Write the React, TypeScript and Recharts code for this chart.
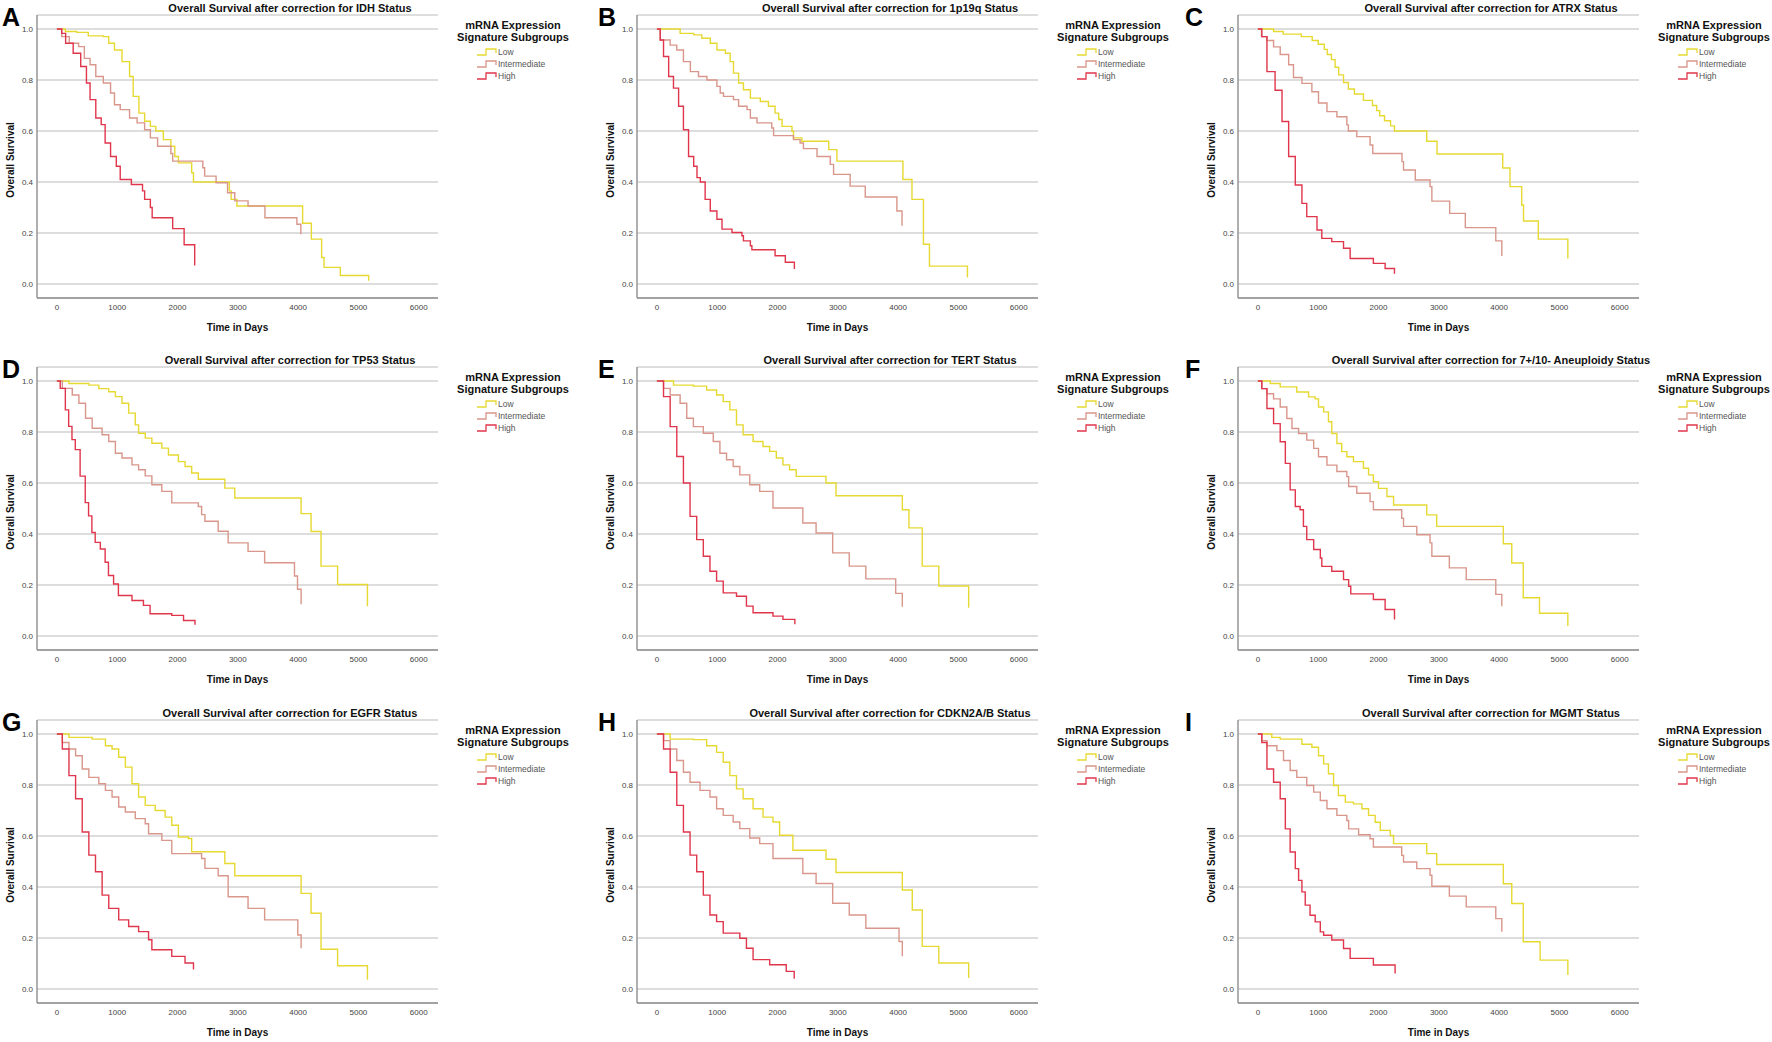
import React from 'react';
import { LineChart, Line, XAxis, YAxis, CartesianGrid } from 'recharts';

type P = [number, number];

// A — IDH
const idhLow: P[] = [[0,1],[140,0.99],[330,0.987],[520,0.973],[770,0.97],[860,0.944],[955,0.918],[1080,0.872],[1205,0.814],[1265,0.736],[1360,0.67],[1455,0.638],[1550,0.618],[1640,0.6],[1765,0.566],[1890,0.54],[1955,0.5],[2015,0.475],[2235,0.436],[2265,0.4],[2860,0.365],[2890,0.332],[2985,0.306],[4075,0.238],[4220,0.176],[4390,0.104],[4430,0.065],[4700,0.033],[5170,0.013]];
const idhInt: P[] = [[0,1],[80,0.97],[205,0.944],[360,0.931],[455,0.885],[550,0.86],[645,0.814],[770,0.788],[890,0.749],[955,0.703],[1050,0.684],[1205,0.651],[1330,0.632],[1455,0.605],[1550,0.573],[1670,0.54],[1890,0.512],[1920,0.482],[2420,0.456],[2450,0.423],[2640,0.397],[2830,0.358],[2950,0.326],[3170,0.306],[3450,0.26],[3980,0.234],[4045,0.195]];
const idhHigh: P[] = [[0,1],[80,0.983],[145,0.944],[270,0.905],[395,0.853],[490,0.788],[550,0.723],[645,0.651],[735,0.625],[800,0.553],[890,0.5],[985,0.462],[1050,0.41],[1235,0.39],[1420,0.365],[1455,0.332],[1550,0.3],[1580,0.26],[1920,0.217],[2110,0.154],[2285,0.072]];

// B — 1p19q
const codLow: P[] = [[0,1],[385,0.983],[610,0.977],[745,0.964],[885,0.944],[995,0.918],[1135,0.905],[1215,0.872],[1270,0.827],[1355,0.788],[1435,0.762],[1550,0.729],[1715,0.716],[1850,0.697],[1960,0.67],[2020,0.645],[2075,0.618],[2240,0.599],[2265,0.573],[2405,0.56],[2850,0.527],[2985,0.482],[4080,0.41],[4230,0.332],[4420,0.156],[4520,0.07],[5150,0.025]];
const codInt: P[] = [[0,1],[55,0.957],[220,0.937],[330,0.918],[440,0.872],[555,0.833],[690,0.814],[830,0.8],[995,0.775],[1050,0.749],[1105,0.736],[1270,0.723],[1355,0.697],[1495,0.684],[1550,0.651],[1660,0.632],[1905,0.612],[1935,0.582],[2265,0.566],[2375,0.553],[2430,0.531],[2655,0.5],[2875,0.469],[2930,0.43],[3205,0.384],[3455,0.341],[3980,0.286],[4065,0.228]];
const codHigh: P[] = [[0,1],[55,0.957],[110,0.892],[195,0.814],[275,0.768],[360,0.697],[440,0.605],[525,0.5],[610,0.462],[665,0.417],[720,0.4],[800,0.332],[885,0.286],[995,0.254],[1080,0.215],[1245,0.202],[1410,0.189],[1435,0.169],[1550,0.15],[1575,0.134],[1960,0.111],[2130,0.085],[2280,0.059]];

// C — ATRX
const atrxLow: P[] = [[0,1],[260,0.99],[420,0.98],[720,0.97],[900,0.955],[1000,0.94],[1100,0.92],[1150,0.9],[1220,0.88],[1280,0.85],[1340,0.82],[1420,0.79],[1500,0.765],[1600,0.745],[1750,0.72],[1900,0.7],[1970,0.68],[2020,0.66],[2100,0.64],[2200,0.62],[2265,0.6],[2800,0.56],[2970,0.51],[4060,0.455],[4180,0.382],[4375,0.31],[4405,0.247],[4650,0.176],[5140,0.1]];
const atrxInt: P[] = [[0,1],[60,0.97],[150,0.955],[260,0.93],[370,0.9],[510,0.86],[590,0.81],[730,0.787],[895,0.754],[1005,0.71],[1145,0.676],[1310,0.656],[1475,0.624],[1500,0.6],[1640,0.578],[1860,0.545],[1905,0.512],[2390,0.48],[2415,0.447],[2610,0.408],[2855,0.382],[2885,0.325],[3180,0.277],[3440,0.221],[3945,0.169],[4045,0.11]];
const atrxHigh: P[] = [[0,1],[65,0.97],[150,0.833],[285,0.76],[400,0.637],[510,0.5],[620,0.388],[730,0.316],[810,0.264],[980,0.212],[1060,0.179],[1225,0.166],[1420,0.14],[1530,0.1],[1915,0.081],[2110,0.061],[2265,0.04]];

// D — TP53
const tp53Low: P[] = [[0,1],[200,0.99],[530,0.984],[695,0.97],[860,0.958],[970,0.939],[1080,0.913],[1190,0.874],[1300,0.828],[1355,0.795],[1465,0.776],[1575,0.756],[1740,0.737],[1850,0.71],[2015,0.684],[2125,0.665],[2235,0.639],[2345,0.615],[2785,0.58],[2950,0.541],[4050,0.48],[4215,0.41],[4380,0.274],[4655,0.202],[5150,0.117]];
const tp53Int: P[] = [[0,1],[90,0.971],[255,0.945],[365,0.913],[475,0.854],[585,0.815],[750,0.789],[860,0.763],[970,0.717],[1080,0.698],[1245,0.671],[1355,0.652],[1465,0.628],[1575,0.593],[1740,0.567],[1905,0.522],[2345,0.508],[2400,0.476],[2455,0.45],[2675,0.411],[2840,0.365],[3170,0.332],[3445,0.287],[3940,0.235],[3990,0.183],[4050,0.124]];
const tp53High: P[] = [[0,1],[55,0.971],[140,0.887],[195,0.822],[250,0.77],[305,0.731],[385,0.627],[470,0.523],[525,0.471],[580,0.406],[635,0.367],[720,0.341],[800,0.289],[855,0.237],[940,0.204],[1020,0.159],[1245,0.139],[1435,0.12],[1545,0.087],[1905,0.081],[2100,0.061],[2290,0.044]];

// E — TERT
const tertLow: P[] = [[0,1],[275,0.984],[605,0.98],[825,0.965],[990,0.945],[1100,0.919],[1210,0.887],[1320,0.828],[1430,0.789],[1595,0.763],[1760,0.743],[1870,0.724],[1980,0.698],[2090,0.671],[2200,0.652],[2310,0.626],[2805,0.6],[2970,0.55],[4070,0.495],[4180,0.424],[4400,0.274],[4675,0.196],[5170,0.111]];
const tertInt: P[] = [[0,1],[110,0.971],[220,0.945],[385,0.913],[495,0.854],[605,0.821],[770,0.795],[935,0.763],[1045,0.717],[1155,0.691],[1265,0.665],[1375,0.632],[1540,0.593],[1705,0.567],[1925,0.502],[2420,0.443],[2640,0.404],[2915,0.326],[3190,0.274],[3465,0.224],[3960,0.167],[4070,0.115]];
const tertHigh: P[] = [[0,1],[110,0.939],[220,0.821],[330,0.704],[440,0.6],[550,0.469],[660,0.378],[770,0.313],[880,0.254],[990,0.215],[1100,0.169],[1320,0.156],[1485,0.117],[1595,0.091],[1925,0.078],[2090,0.065],[2288,0.046]];

// F — 7+/10- aneuploidy
const aneuLow: P[] = [[0,1],[205,0.99],[370,0.977],[645,0.957],[840,0.938],[950,0.93],[1005,0.898],[1090,0.879],[1170,0.84],[1225,0.794],[1310,0.755],[1390,0.723],[1475,0.703],[1585,0.684],[1750,0.658],[1835,0.632],[1915,0.605],[2000,0.579],[2140,0.547],[2250,0.514],[2800,0.475],[2965,0.43],[4070,0.362],[4210,0.286],[4400,0.15],[4670,0.089],[5140,0.039]];
const aneuInt: P[] = [[0,1],[65,0.97],[150,0.95],[260,0.93],[370,0.898],[480,0.853],[565,0.814],[675,0.794],[810,0.768],[925,0.736],[1005,0.703],[1145,0.67],[1310,0.645],[1475,0.625],[1505,0.586],[1640,0.56],[1860,0.527],[1915,0.495],[2385,0.462],[2415,0.43],[2635,0.397],[2855,0.365],[2885,0.313],[3175,0.267],[3455,0.221],[3945,0.163],[4045,0.117]];
const aneuHigh: P[] = [[0,1],[65,0.97],[150,0.892],[260,0.833],[370,0.762],[455,0.677],[535,0.573],[620,0.508],[700,0.495],[755,0.43],[810,0.378],[925,0.339],[1035,0.306],[1060,0.273],[1225,0.254],[1420,0.221],[1505,0.195],[1540,0.165],[1915,0.143],[2110,0.104],[2265,0.065]];

// G — EGFR
const egfrLow: P[] = [[0,1],[200,0.987],[585,0.98],[805,0.954],[915,0.941],[1025,0.909],[1135,0.87],[1245,0.805],[1355,0.753],[1465,0.72],[1630,0.7],[1795,0.674],[1905,0.642],[2015,0.596],[2180,0.59],[2235,0.538],[2785,0.492],[2950,0.444],[4050,0.375],[4215,0.297],[4380,0.156],[4655,0.091],[5150,0.036]];
const egfrInt: P[] = [[0,1],[90,0.967],[200,0.941],[310,0.915],[420,0.863],[530,0.83],[695,0.805],[805,0.779],[915,0.753],[1025,0.714],[1135,0.694],[1300,0.668],[1465,0.648],[1520,0.609],[1740,0.583],[1905,0.531],[2400,0.512],[2455,0.473],[2675,0.444],[2840,0.362],[3170,0.316],[3445,0.271],[3995,0.212],[4050,0.16]];
const egfrHigh: P[] = [[0,1],[90,0.941],[200,0.837],[310,0.746],[420,0.616],[530,0.525],[640,0.46],[750,0.368],[860,0.316],[1025,0.271],[1190,0.245],[1355,0.225],[1520,0.193],[1575,0.154],[1905,0.128],[2125,0.102],[2265,0.076]];

// H — CDKN2A/B
const cdkLow: P[] = [[0,1],[220,0.98],[605,0.978],[825,0.954],[990,0.928],[1100,0.889],[1210,0.837],[1320,0.785],[1430,0.746],[1595,0.707],[1760,0.674],[1925,0.655],[2035,0.603],[2255,0.544],[2805,0.509],[2970,0.457],[4070,0.388],[4235,0.31],[4400,0.167],[4675,0.102],[5170,0.043]];
const cdkInt: P[] = [[0,1],[110,0.974],[220,0.941],[330,0.896],[440,0.85],[550,0.811],[715,0.779],[880,0.753],[990,0.707],[1100,0.681],[1265,0.655],[1375,0.629],[1540,0.592],[1705,0.57],[1925,0.512],[2420,0.453],[2640,0.414],[2915,0.336],[3190,0.29],[3465,0.238],[4015,0.186],[4070,0.128]];
const cdkHigh: P[] = [[0,1],[110,0.941],[220,0.85],[330,0.72],[440,0.616],[550,0.525],[660,0.46],[770,0.368],[880,0.29],[990,0.264],[1100,0.219],[1375,0.199],[1485,0.16],[1595,0.115],[1870,0.095],[2145,0.069],[2277,0.04]];

// I — MGMT
const mgmtLow: P[] = [[0,1],[230,0.987],[370,0.98],[730,0.96],[895,0.948],[1005,0.915],[1090,0.883],[1170,0.844],[1255,0.798],[1335,0.759],[1450,0.733],[1585,0.726],[1725,0.707],[1835,0.681],[1945,0.654],[2030,0.622],[2195,0.602],[2250,0.57],[2800,0.531],[2965,0.488],[4070,0.413],[4210,0.335],[4400,0.185],[4680,0.113],[5140,0.055]];
const mgmtInt: P[] = [[0,1],[65,0.974],[150,0.954],[315,0.935],[425,0.896],[535,0.857],[645,0.83],[810,0.798],[925,0.772],[1035,0.739],[1145,0.707],[1310,0.681],[1475,0.661],[1505,0.628],[1670,0.605],[1860,0.589],[1915,0.557],[2385,0.524],[2415,0.498],[2635,0.472],[2855,0.446],[2885,0.403],[3175,0.364],[3455,0.322],[3945,0.276],[4045,0.224]];
const mgmtHigh: P[] = [[0,1],[65,0.967],[150,0.863],[260,0.811],[370,0.746],[455,0.628],[535,0.537],[620,0.472],[675,0.426],[730,0.381],[785,0.329],[865,0.289],[950,0.263],[1035,0.224],[1090,0.211],[1225,0.192],[1420,0.159],[1530,0.12],[1915,0.094],[2275,0.061]];

const xTicks = [0, 1000, 2000, 3000, 4000, 5000, 6000];
const yTicks = [0, 0.2, 0.4, 0.6, 0.8, 1.0];
const groupNames = ['Low', 'Intermediate', 'High'];
const groupColors = ['#e6d932', '#d9968b', '#e0364c'];
const panelLetters = ['A', 'B', 'C', 'D', 'E', 'F', 'G', 'H', 'I'];
const panelTitles = [
  'Overall Survival after correction for IDH Status',
  'Overall Survival after correction for 1p19q Status',
  'Overall Survival after correction for ATRX Status',
  'Overall Survival after correction for TP53 Status',
  'Overall Survival after correction for TERT Status',
  'Overall Survival after correction for 7+/10- Aneuploidy Status',
  'Overall Survival after correction for EGFR Status',
  'Overall Survival after correction for CDKN2A/B Status',
  'Overall Survival after correction for MGMT Status',
];
const panelSeries: P[][][] = [
  [idhLow, idhInt, idhHigh],
  [codLow, codInt, codHigh],
  [atrxLow, atrxInt, atrxHigh],
  [tp53Low, tp53Int, tp53High],
  [tertLow, tertInt, tertHigh],
  [aneuLow, aneuInt, aneuHigh],
  [egfrLow, egfrInt, egfrHigh],
  [cdkLow, cdkInt, cdkHigh],
  [mgmtLow, mgmtInt, mgmtHigh],
];
const legendTitle = ['mRNA Expression', 'Signature Subgroups'];
const yAxisTitle = 'Overall Survival';
const xAxisTitle = 'Time in Days';

const FONT = '"Liberation Sans", Arial, Helvetica, sans-serif';
const COL_X = [0, 600, 1201];
const ROW_Y = [0, 352, 705];
const LETTER_X = [2, 598, 1185];

const toRows = (pts: P[]) => pts.map(([t, s]) => ({ t, s }));

function Panel({ series }: { series: P[][] }) {
  return (
    <LineChart width={590} height={340} margin={{ top: 15, right: 152, bottom: 12, left: 0 }}>
      <CartesianGrid horizontal vertical={false} stroke="#d2d2d2" strokeWidth={1.3} />
      <XAxis
        type="number"
        dataKey="t"
        domain={[-330, 6320]}
        ticks={xTicks}
        allowDataOverflow
        interval={0}
        height={30}
        axisLine={{ stroke: '#8e8e8e', strokeWidth: 1.4 }}
        tickLine={false}
        tickSize={0}
        tickMargin={6}
        tick={{ fontSize: 8, fill: '#444', fontFamily: FONT }}
      />
      <YAxis
        type="number"
        domain={[-0.055, 1.055]}
        ticks={yTicks}
        allowDataOverflow
        interval={0}
        width={37}
        axisLine={{ stroke: '#8e8e8e', strokeWidth: 1.4 }}
        tickLine={false}
        tickSize={0}
        tickMargin={4}
        tick={{ fontSize: 8, fill: '#444', fontFamily: FONT }}
        tickFormatter={(v: number) => v.toFixed(1)}
      />
      {series.map((pts, i) => (
        <Line
          key={groupNames[i]}
          data={toRows(pts)}
          dataKey="s"
          name={groupNames[i]}
          type="stepAfter"
          stroke={groupColors[i]}
          strokeWidth={1.4}
          dot={false}
          activeDot={false}
          isAnimationActive={false}
        />
      ))}
    </LineChart>
  );
}

function Overlay() {
  return (
    <svg width={1772} height={1042} style={{ position: 'absolute', left: 0, top: 0, pointerEvents: 'none' }} fontFamily={FONT}>
      {panelLetters.map((letter, k) => {
        const c = k % 3;
        const r = Math.floor(k / 3);
        const x0 = COL_X[c];
        const y0 = ROW_Y[r];
        return (
          <g key={letter}>
            <text x={LETTER_X[c]} y={y0 + 26} fontSize={25} fontWeight="bold" fill="#000">{letter}</text>
            <text x={x0 + 290} y={y0 + 11.5} fontSize={11} fontWeight="bold" fill="#111" textAnchor="middle">{panelTitles[k]}</text>
            <text transform={`translate(${x0 + 13.5},${y0 + 160}) rotate(-90)`} fontSize={10} fontWeight="bold" fill="#111" textAnchor="middle">{yAxisTitle}</text>
            <text x={x0 + 237.5} y={y0 + 330.5} fontSize={10} fontWeight="bold" fill="#111" textAnchor="middle">{xAxisTitle}</text>
            <text x={x0 + 513} y={y0 + 29} fontSize={11} fontWeight="bold" fill="#111" textAnchor="middle">{legendTitle[0]}</text>
            <text x={x0 + 513} y={y0 + 41} fontSize={11} fontWeight="bold" fill="#111" textAnchor="middle">{legendTitle[1]}</text>
            {groupNames.map((g, i) => {
              const cy = y0 + 52 + i * 12;
              const gx = x0 + 477;
              return (
                <g key={g}>
                  <path d={`M${gx},${cy + 3} H${gx + 9} V${cy - 3} H${gx + 19} V${cy + 1}`} fill="none" stroke={groupColors[i]} strokeWidth={1.3} />
                  <text x={gx + 21} y={cy + 3} fontSize={8.5} fill="#555">{g}</text>
                </g>
              );
            })}
          </g>
        );
      })}
    </svg>
  );
}

export default function App() {
  return (
    <div style={{ position: 'absolute', left: 0, top: 0, width: 1772, height: 1042, background: '#fff', overflow: 'hidden' }}>
      {panelSeries.map((series, k) => (
        <div key={panelLetters[k]} style={{ position: 'absolute', left: COL_X[k % 3], top: ROW_Y[Math.floor(k / 3)] }}>
          <Panel series={series} />
        </div>
      ))}
      <Overlay />
    </div>
  );
}
